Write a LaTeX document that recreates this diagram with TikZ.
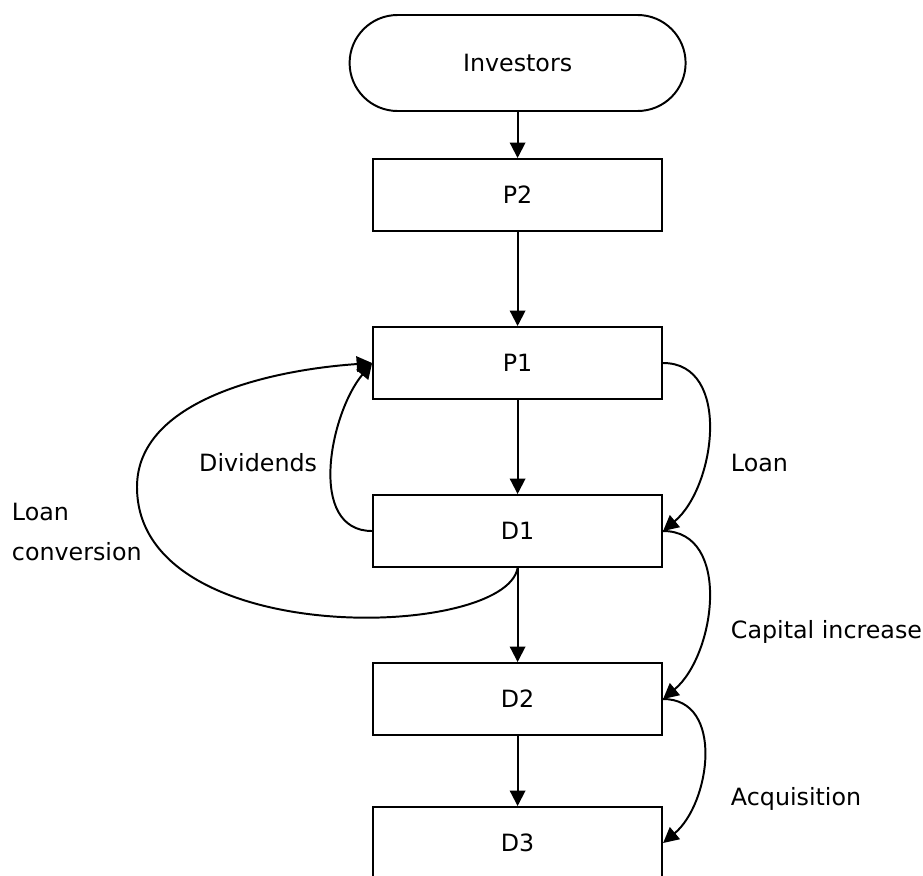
\documentclass[tikz,border=0pt]{standalone}
\usepackage{fontspec}
\setmainfont{DejaVu Sans}
\usetikzlibrary{arrows.meta}

\begin{document}
\begin{tikzpicture}[
  >={Triangle[length=11pt,width=11pt]},
  line width=1.4pt,
  every node/.style={font=\fontsize{16.9}{29}\selectfont},
  box/.style={draw, minimum width=7.225cm, minimum height=1.8cm},
  term/.style={draw, rounded corners=1.2cm, minimum width=8.4cm, minimum height=2.4cm},
  lbl/.style={inner sep=0pt}]
\useasboundingbox (0,0) rectangle (23.075,-21.875);

% Boxes
\node[term] (inv) at (12.94,-1.575) {Investors};
\node[box] (p2) at (12.94,-4.875) {P2};
\node[box] (p1) at (12.94,-9.075) {P1};
\node[box] (d1) at (12.94,-13.275) {D1};
\node[box] (d2) at (12.94,-17.475) {D2};
\node[box] (d3) at (12.94,-21.075) {D3};

% Main chain
\draw[->] (inv) -- (p2);
\draw[->] (p2) -- (p1);
\draw[->] (p1) -- (d1);
\draw[->] (d1) -- (d2);
\draw[->] (d2) -- (d3);

% Side flows
\draw[->] (p1.east) to[out=0,in=40,looseness=1.05] (d1.east);
\draw[->] (d1.east) to[out=0,in=40,looseness=1.05] (d2.east);
\draw[->] (d2.east) to[out=0,in=40,looseness=1.1] (d3.east);
\draw[->] (d1.west) to[out=180,in=230,looseness=1] (p1.west);

% Loan conversion loop
\coordinate (lcturn) at (3.425,-12.175);
\draw[->] (d1.south) .. controls (12.625,-16) and (3.425,-16.25) .. (lcturn)
  .. controls (3.425,-10) and (6.75,-9.25) .. (p1.west);

\node[lbl, anchor=west] (loan) at (18.25,-11.575) {Loan};
\node[lbl, anchor=west] (capinc) at (18.25,-15.8) {Capital increase};
\node[lbl, anchor=west] (acq) at (18.25,-19.975) {Acquisition};
\node[lbl, anchor=east] (div) at (7.95,-11.575) {Dividends};
\node[lbl, anchor=west, align=left] (lconv) at (0.275,-13.3) {Loan\\conversion};

\end{tikzpicture}
\end{document}
